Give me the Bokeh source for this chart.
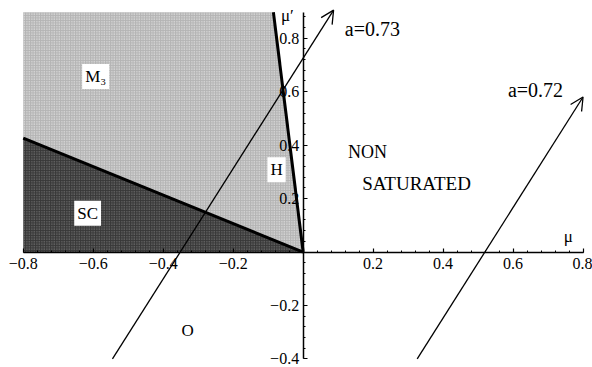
from bokeh.plotting import figure
from bokeh.models import (Arrow, OpenHead, Label, FixedTicker, Range1d)
from bokeh.embed import file_html
from bokeh.resources import INLINE

# Phase boundaries (mu, mu')
sc_edge_mu = [-0.8, 0.0]
sc_edge_mup = [0.426, 0.0]
h_edge_mu = [0.0, -0.085]
h_edge_mup = [0.0, 0.897]

# Region outlines
m3_mu = [-0.8, -0.8, -0.085, 0.0]
m3_mup = [0.426, 0.897, 0.897, 0.0]
sc_mu = [-0.8, -0.8, 0.0]
sc_mup = [0.0, 0.426, 0.0]

# Trajectories for two values of a
traj_a = ["a=0.73", "a=0.72"]
traj_start_mu = [-0.545, 0.326]
traj_start_mup = [-0.40, -0.40]
traj_end_mu = [0.087, 0.80]
traj_end_mup = [0.905, 0.58]

# Tick values
x_ticks = [-0.8, -0.6, -0.4, -0.2, 0.2, 0.4, 0.6, 0.8]
y_ticks = [-0.4, -0.2, 0.2, 0.4, 0.6, 0.8]
x_minor = [round(-0.8 + 0.04 * i, 2) for i in range(41)]
y_minor = [round(-0.4 + 0.04 * i, 2) for i in range(33)]

FONT = "Liberation Serif"

p = figure(width=592, height=367, output_backend="svg", toolbar_location=None,
           x_range=Range1d(-0.865, 0.827), y_range=Range1d(-0.432, 0.941),
           min_border=0, background_fill_color="white")
p.outline_line_color = None
p.xgrid.visible = False
p.ygrid.visible = False

# Shaded phases
p.patch(m3_mu, m3_mup, fill_color="#b4b4b4", line_color=None,
        hatch_pattern="dot", hatch_color="#f2f2f2", hatch_scale=2.5, hatch_weight=1)
p.patch(sc_mu, sc_mup, fill_color="#383838", line_color=None,
        hatch_pattern="dot", hatch_color="#8a8a8a", hatch_scale=2.5, hatch_weight=1)

# Boundary lines
p.line(sc_edge_mu, sc_edge_mup, line_color="black", line_width=3)
p.line(h_edge_mu, h_edge_mup, line_color="black", line_width=3)

# Axes through the origin
for ax, ticks, minor, bnds in ((p.xaxis[0], x_ticks, x_minor, (-0.8, 0.8)),
                               (p.yaxis[0], y_ticks, y_minor, (-0.4, 0.897))):
    ax.fixed_location = 0
    ax.bounds = bnds
    ax.ticker = FixedTicker(ticks=ticks, minor_ticks=minor)
    ax.major_tick_in = 4
    ax.major_tick_out = 0
    ax.minor_tick_in = 2
    ax.minor_tick_out = 0
    ax.axis_line_width = 1.5
    ax.major_tick_line_width = 1.2
    ax.major_label_text_font = FONT
    ax.major_label_text_font_size = "16px"
    ax.major_label_text_color = "black"
    ax.major_label_standoff = 4
    ax.axis_line_color = "black"
p.xaxis[0].major_label_standoff = 6

# Trajectory arrows
for i in range(len(traj_a)):
    p.add_layout(Arrow(end=OpenHead(size=13, line_width=1.3, line_color="black"),
                       x_start=traj_start_mu[i], y_start=traj_start_mup[i],
                       x_end=traj_end_mu[i], y_end=traj_end_mup[i],
                       line_width=1.3, line_color="black"))

def label(x, y, text, size="17px", box=False, align="center"):
    kw = dict(x=x, y=y, text=text, text_font=FONT, text_font_size=size,
              text_align=align, text_baseline="middle", text_color="black")
    if box:
        kw.update(background_fill_color="white", padding=3)
    p.add_layout(Label(**kw))

label(-0.593, 0.657, "M\u2083", box=True)
label(-0.616, 0.145, "SC", box=True)
label(-0.076, 0.308, "H", box=True)
label(-0.33, -0.293, "O")
label(0.184, 0.373, "NON", size="18px")
label(0.324, 0.256, "SATURATED", size="19px")
label(0.198, 0.836, traj_a[0], size="20px")
label(0.664, 0.607, traj_a[1], size="20px")
label(0.758, 0.059, "\u03bc")
label(-0.045, 0.885, "\u03bc\u2032")

open("out.html", "w").write(file_html(p, INLINE))
